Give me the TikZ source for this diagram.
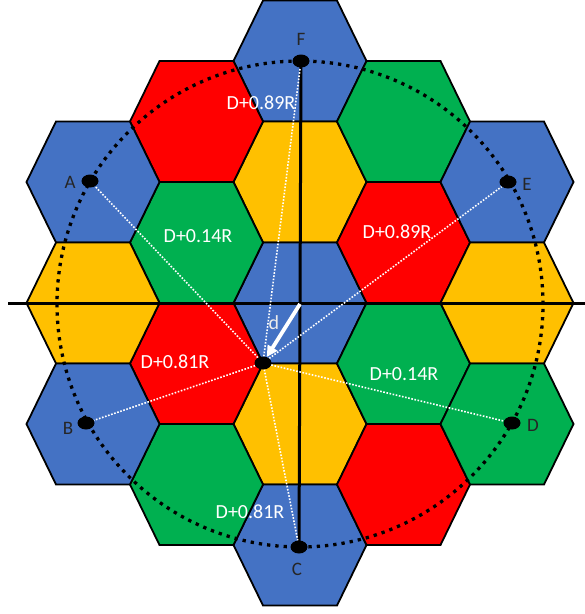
\documentclass[tikz,border=0pt]{standalone}
\usepackage{fontspec}
\setmainfont{Carlito}
\usetikzlibrary{shapes.geometric,arrows.meta}
\pgfdeclarelayer{hexlayer}
\pgfdeclarelayer{linelayer}
\pgfsetlayers{hexlayer,linelayer,main}
\definecolor{hexblue}{HTML}{4472C4}
\definecolor{hexred}{HTML}{FF0000}
\definecolor{hexgreen}{HTML}{00B050}
\definecolor{hexyellow}{HTML}{FFC000}
\tikzset{
  hexline/.style={draw=black, line width=1.8pt, line join=miter},
  axisline/.style={draw=black, line width=3pt},
  dotcircle/.style={draw=black, line width=3.3pt, dash pattern=on 3.3pt off 5pt},
  wdots/.style={draw=white, line width=1.6pt, dash pattern=on 1.6pt off 1.6pt},
  bsdot/.style={ellipse, fill=black, minimum width=17pt, minimum height=13pt, inner sep=0pt},
  letter/.style={text=black!85, font=\fontsize{19}{22}\selectfont, inner sep=0pt},
  lbl/.style={text=white, font=\fontsize{20}{24}\selectfont, inner sep=0pt},
  darrow/.style={draw=white, line width=3.8pt, -{Triangle[length=11pt,width=11pt]}}
}
\newcommand\hexcell[3]{%
  \filldraw[hexline, fill=#3, shift={(#1,#2)}] (-66.5,0) -- (-37,-60.5) -- (37,-60.5) -- (66.5,0) -- (37,60.5) -- (-37,60.5) -- cycle;}
\begin{document}
\begin{tikzpicture}[x=1pt,y=-1pt]
\useasboundingbox (0,0) rectangle (585,614);
% hexagon cells
\begin{pgfonlayer}{hexlayer}
\hexcell{300}{61}{hexblue}
\hexcell{300}{182}{hexyellow}
\hexcell{300}{303}{hexblue}
\hexcell{300}{424}{hexyellow}
\hexcell{300}{545}{hexblue}
\hexcell{196.5}{121.5}{hexred}
\hexcell{196.5}{242.5}{hexgreen}
\hexcell{196.5}{363.5}{hexred}
\hexcell{196.5}{484.5}{hexgreen}
\hexcell{403.5}{121.5}{hexgreen}
\hexcell{403.5}{242.5}{hexred}
\hexcell{403.5}{363.5}{hexgreen}
\hexcell{403.5}{484.5}{hexred}
\hexcell{93}{182}{hexblue}
\hexcell{93}{303}{hexyellow}
\hexcell{93}{424}{hexblue}
\hexcell{507}{182}{hexblue}
\hexcell{507}{303}{hexyellow}
\hexcell{507}{424}{hexgreen}
\end{pgfonlayer}
% points
\coordinate (O) at (300,304);
\coordinate (axL) at (8,303);
\coordinate (axR) at (585,303);
\node[bsdot] (A) at (90,181) {};
\node[bsdot] (B) at (86,423) {};
\node[bsdot] (C) at (299,547) {};
\node[bsdot] (D) at (512,423) {};
\node[bsdot] (E) at (508,182) {};
\node[bsdot] (F) at (301,61) {};
\node[bsdot] (M) at (263,363) {};
% axes, circle and distances
\begin{pgfonlayer}{linelayer}
\draw[axisline] (axL) -- (axR);
\draw[axisline] (F.center) -- (C.center);
\draw[dotcircle] (O) circle[radius=243pt];
\foreach \t in {A,B,C,D,E,F} {\draw[wdots] (M) -- (\t);}
\end{pgfonlayer}
\draw[darrow] (O) -- (M);
% letters
\node[letter] (lA) at (70,182) {A};
\node[letter] (lB) at (68,428) {B};
\node[letter] (lC) at (297,569) {C};
\node[letter] (lD) at (533,425) {D};
\node[letter] (lE) at (527,184) {E};
\node[letter] (lF) at (301,39) {F};
% labels
\node[lbl] (t1) at (261,103) {D+0.89R};
\node[lbl] (t2) at (198,236) {D+0.14R};
\node[lbl] (t3) at (397,232) {D+0.89R};
\node[lbl] (t4) at (175,362) {D+0.81R};
\node[lbl] (t5) at (404,374) {D+0.14R};
\node[lbl] (t6) at (250,512) {D+0.81R};
\node[lbl, text=white!92!black] (td) at (274,323) {d};
\end{tikzpicture}
\end{document}
